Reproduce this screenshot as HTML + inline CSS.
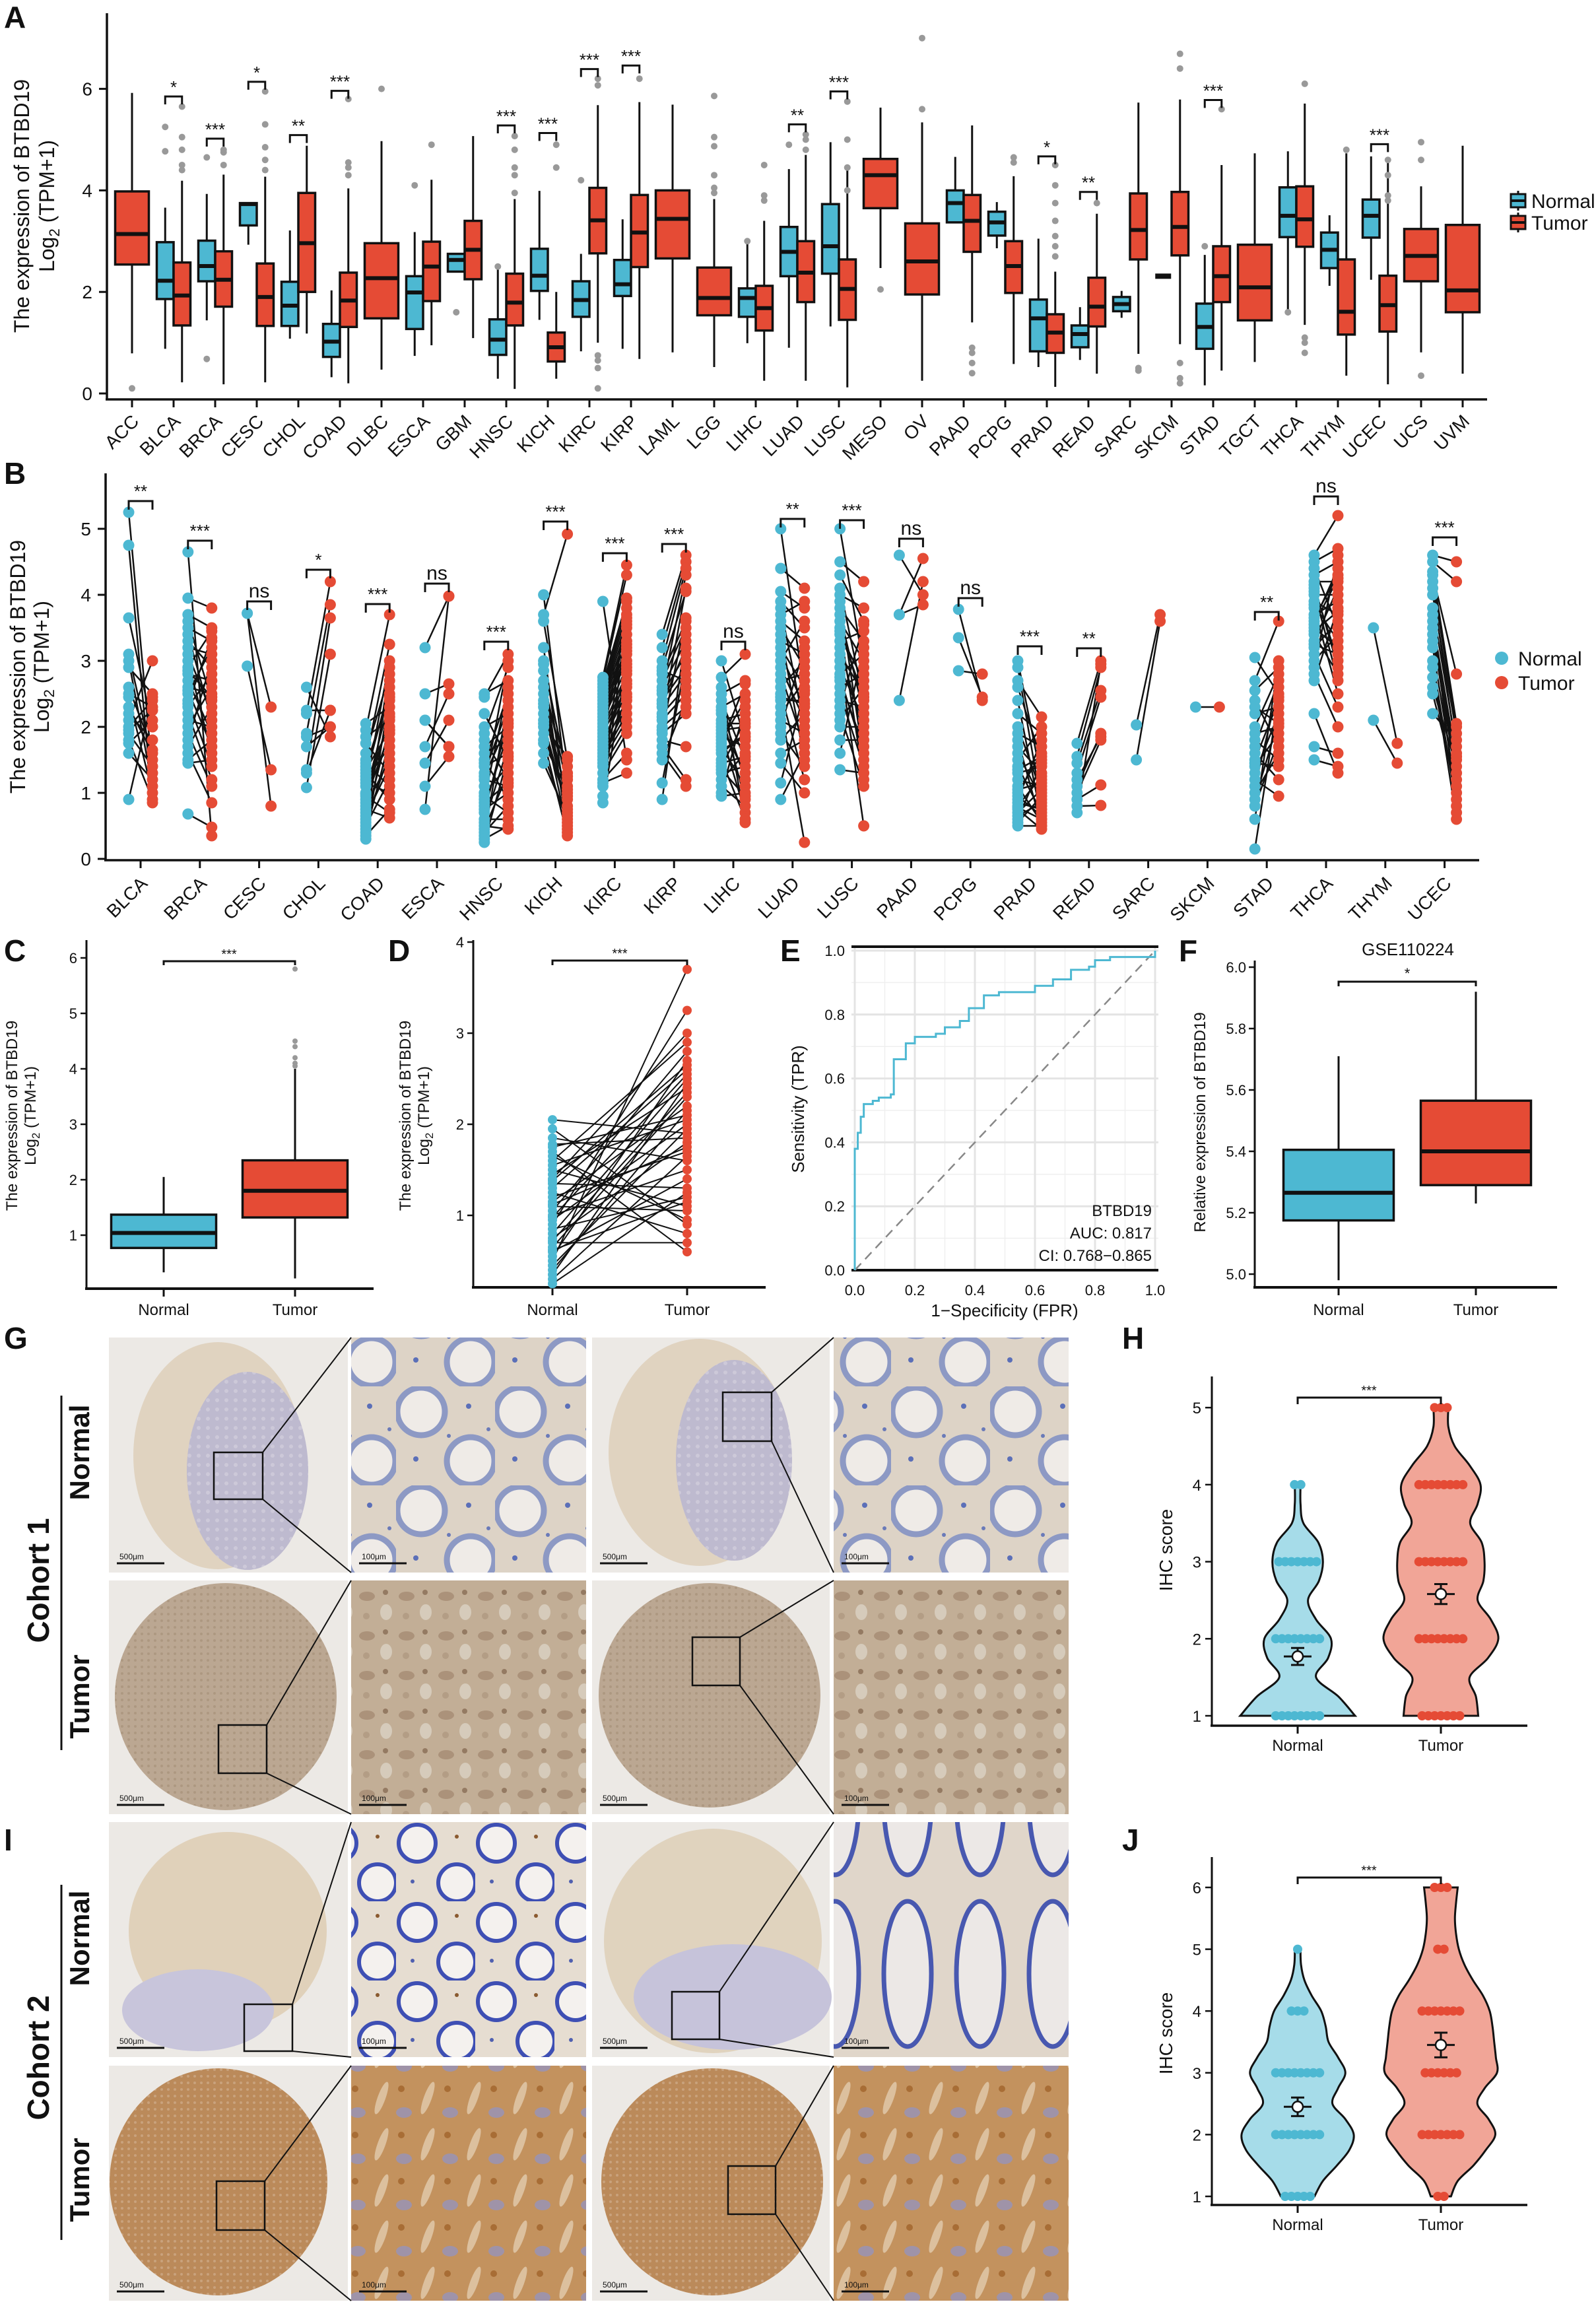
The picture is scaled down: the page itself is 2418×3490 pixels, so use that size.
<!DOCTYPE html>
<html><head><meta charset="utf-8"><title>BTBD19 expression figure</title>
<style>
html,body{margin:0;padding:0;background:#fff;}
svg{display:block;}
text{font-family:"Liberation Sans",Arial,sans-serif;fill:#111;}
.lt{font-weight:bold;}
</style></head>
<body>
<svg id="fig" xmlns="http://www.w3.org/2000/svg" width="2418" height="3490" viewBox="0 0 2418 3490">
<defs>
<pattern id="pGland1" width="150" height="150" patternUnits="userSpaceOnUse">
 <rect width="150" height="150" fill="#ddd3c6"/>
 <circle cx="38" cy="38" r="36" fill="#efebe7" stroke="#8d99c4" stroke-width="9"/>
 <circle cx="113" cy="113" r="36" fill="#efebe7" stroke="#8d99c4" stroke-width="9"/>
 <circle cx="110" cy="30" r="4" fill="#5b6fb8"/><circle cx="30" cy="110" r="4" fill="#5b6fb8"/>
 <circle cx="80" cy="75" r="3" fill="#6a7ab8"/><circle cx="140" cy="65" r="3" fill="#6a7ab8"/>
</pattern>
<pattern id="pGland2" width="120" height="120" patternUnits="userSpaceOnUse">
 <rect width="120" height="120" fill="#e6ddd1"/>
 <circle cx="32" cy="32" r="28" fill="#f4f1ee" stroke="#3e4fb4" stroke-width="6"/>
 <circle cx="92" cy="92" r="28" fill="#f4f1ee" stroke="#3e4fb4" stroke-width="6"/>
 <circle cx="92" cy="22" r="3" fill="#8a5a30"/><circle cx="25" cy="90" r="3" fill="#5060b0"/>
</pattern>
<pattern id="pGland3" width="110" height="260" patternUnits="userSpaceOnUse">
 <rect width="110" height="260" fill="#e0d6ca"/>
 <ellipse cx="55" cy="130" rx="36" ry="110" fill="#ece8e6" stroke="#4858b0" stroke-width="7"/>
</pattern>
<pattern id="pTum1" width="60" height="60" patternUnits="userSpaceOnUse">
 <rect width="60" height="60" fill="#c2ae96"/>
 <ellipse cx="16" cy="18" rx="12" ry="7" fill="#ab927a"/>
 <ellipse cx="45" cy="42" rx="9" ry="12" fill="#d6cbbb"/>
 <circle cx="44" cy="12" r="4" fill="#947a62"/>
 <circle cx="15" cy="48" r="5" fill="#b39d85"/>
</pattern>
<pattern id="pTum2" width="70" height="70" patternUnits="userSpaceOnUse">
 <rect width="70" height="70" fill="#c3925e"/>
 <ellipse cx="18" cy="28" rx="6" ry="26" fill="#dcc09e" transform="rotate(20 18 28)"/>
 <ellipse cx="52" cy="50" rx="12" ry="8" fill="#9f93a8"/>
 <circle cx="48" cy="14" r="5" fill="#a86d35"/>
</pattern>
<pattern id="pCoreN" width="14" height="14" patternUnits="userSpaceOnUse">
 <rect width="14" height="14" fill="#bebacf"/><circle cx="7" cy="7" r="3" fill="#cdc9d9"/>
</pattern>
<pattern id="pCoreT1" width="10" height="10" patternUnits="userSpaceOnUse">
 <rect width="10" height="10" fill="#bba792"/><circle cx="5" cy="5" r="2" fill="#ad9881"/>
</pattern>
<pattern id="pCoreT2" width="10" height="10" patternUnits="userSpaceOnUse">
 <rect width="10" height="10" fill="#bb8a5a"/><circle cx="5" cy="5" r="2" fill="#c9a27c"/>
</pattern>
</defs>
<text class="lt" x="6" y="42" font-size="46">A</text>
<text class="lt" x="6" y="733" font-size="46">B</text>
<text class="lt" x="6" y="1456" font-size="46">C</text>
<text class="lt" x="588" y="1456" font-size="46">D</text>
<text class="lt" x="1182" y="1456" font-size="46">E</text>
<text class="lt" x="1786" y="1456" font-size="46">F</text>
<text class="lt" x="6" y="2043" font-size="46">G</text>
<text class="lt" x="1700" y="2043" font-size="46">H</text>
<text class="lt" x="6" y="2803" font-size="46">I</text>
<text class="lt" x="1700" y="2803" font-size="46">J</text>
</svg>
<script>
const NS='http://www.w3.org/2000/svg';
const svg=document.getElementById('fig');
function mk(tag, attrs, name, parent){
  const el=document.createElementNS(NS, tag);
  for(const k in attrs) el.setAttribute(k, attrs[k]);
  
  
  (parent||svg).appendChild(el);
  return el;
}
function txt(x,y,s,size,name,extra){
  const t=mk('text',Object.assign({x:x,y:y,'font-size':size},extra||{}),name);
  t.textContent=s; return t;
}
function line(x1,y1,x2,y2,w,name,col,extra){
  return mk('line',Object.assign({x1:x1,y1:y1,x2:x2,y2:y2,stroke:col||'#111','stroke-width':w},extra||{}),name);
}
function ylab2(x1,x2,cy,size,name){
  txt(x1,cy,'The expression of BTBD19',size,name+'-line1',{'text-anchor':'middle',transform:'rotate(-90 '+x1+' '+cy+')'});
  const t2=mk('text',{x:x2,y:cy,'font-size':size,'text-anchor':'middle',transform:'rotate(-90 '+x2+' '+cy+')'},name+'-line2');
  const a=document.createElementNS(NS,'tspan'); a.textContent='Log'; t2.appendChild(a);
  const b=document.createElementNS(NS,'tspan'); b.textContent='2'; b.setAttribute('font-size',size*0.7); b.setAttribute('dy',size*0.25); t2.appendChild(b);
  const c=document.createElementNS(NS,'tspan'); c.textContent=' (TPM+1)'; c.setAttribute('dy',-size*0.25); t2.appendChild(c);
}
const BLUE='#4db8d2', RED='#e54b35';

/* ================= PANEL A ================= */
const catsA=['ACC','BLCA','BRCA','CESC','CHOL','COAD','DLBC','ESCA','GBM','HNSC','KICH','KIRC','KIRP','LAML','LGG','LIHC','LUAD','LUSC','MESO','OV','PAAD','PCPG','PRAD','READ','SARC','SKCM','STAD','TGCT','THCA','THYM','UCEC','UCS','UVM'];
const normLoA =[null,0.88,1.44,2.93,1.08,0.32,null,0.74,2.4,0.29,1.45,0.83,0.88,null,null,0.99,0.9,1.32,null,null,3.37,2.86,0.52,0.66,1.49,2.31,0.16,null,1.54,2.12,2.24,null,null];
const normQ1A =[null,1.86,2.21,3.31,1.33,0.72,null,1.27,2.4,0.76,2.02,1.51,1.92,null,null,1.51,2.31,2.36,null,null,3.37,3.11,0.83,0.91,1.62,2.31,0.88,null,3.08,2.47,3.07,null,null];
const normMedA=[null,2.22,2.51,3.73,1.73,1.02,null,1.99,2.63,1.06,2.32,1.84,2.15,null,null,1.88,2.79,2.9,null,null,3.75,3.37,1.48,1.17,1.76,2.31,1.31,null,3.5,2.83,3.5,null,null];
const normQ3A =[null,2.98,3.01,3.75,2.2,1.37,null,2.31,2.75,1.46,2.85,2.21,2.63,null,null,2.07,3.28,3.73,null,null,4.0,3.58,1.85,1.34,1.9,2.31,1.77,null,4.06,3.17,3.82,null,null];
const normHiA =[null,3.66,3.93,3.75,3.21,2.03,null,3.18,2.75,2.5,3.99,2.75,3.43,null,null,2.99,4.42,4.95,null,null,4.66,3.77,3.05,1.7,2.02,2.31,2.73,null,4.77,3.51,4.67,null,null];
const tumLoA  =[0.79,0.22,0.18,0.22,1.18,0.2,0.47,0.95,1.09,0.09,0.29,1.0,0.68,0.81,0.52,0.25,0.25,0.12,2.47,0.25,1.4,0.58,0.13,0.39,0.78,0.97,0.45,0.62,1.35,0.35,0.18,0.81,0.39];
const tumQ1A  =[2.54,1.34,1.71,1.33,2.0,1.31,1.48,1.82,2.25,1.34,0.63,2.76,2.49,2.66,1.54,1.24,1.8,1.45,3.65,1.95,2.79,1.98,0.8,1.32,2.64,2.72,1.8,1.44,2.89,1.16,1.22,2.21,1.6];
const tumMedA =[3.14,1.93,2.24,1.9,2.96,1.83,2.27,2.5,2.83,1.79,0.91,3.41,3.17,3.44,1.88,1.68,2.38,2.06,4.3,2.6,3.4,2.51,1.2,1.71,3.22,3.28,2.31,2.09,3.43,1.61,1.74,2.71,2.03];
const tumQ3A  =[3.98,2.58,2.8,2.56,3.95,2.38,2.96,2.99,3.4,2.36,1.2,4.05,3.91,4.0,2.48,2.12,3.0,2.64,4.62,3.35,3.91,3.0,1.56,2.28,3.94,3.97,2.9,2.93,4.08,2.64,2.32,3.24,3.32];
const tumHiA  =[5.92,4.19,4.31,4.27,4.88,4.04,4.97,4.21,5.07,3.83,2.0,5.68,5.74,5.69,3.83,3.4,4.7,4.41,5.63,5.34,5.28,4.28,2.4,3.54,5.73,5.79,4.5,4.73,5.71,4.73,4.59,4.08,4.88];
const normOutA=[[],[4.77,5.25],[0.68,4.65],[],[],[],[],[4.1],[1.6],[2.5],[],[4.2],[],[],[],[3.0],[4.9],[],[],[],[],[],[],[],[],[],[2.9],[],[1.6],[],[],[],[]];
const tumOutA =[[0.1],[4.4,4.5,4.8,5.05,5.65],[4.5,4.75,4.8],[4.4,4.6,4.85,5.3,5.95],[],[4.3,4.45,4.55,5.8],[6.0],[4.9],[],[3.95,4.3,4.45,4.8,5.07],[4.45,4.9],[6.07,6.2,0.5,0.65,0.75,0.1],[6.2],[],[5.86,5.05,4.87,4.3,4.05,3.95],[3.8,3.9,4.5],[5.0,5.1,4.8],[5.75,5.0,4.45,4.0],[2.05],[7.0,5.6],[0.4,0.6,0.8,0.9],[4.55,4.65],[4.5,4.1,3.75,3.4,3.1,2.9,2.7],[3.75],[0.45,0.5],[6.69,6.4,0.2,0.3,0.6],[5.6],[],[6.1,0.8,1.0,1.1],[4.8],[4.6,4.3,3.9,3.8],[4.95,4.6,0.35],[]];
const sigCatA=['BLCA','BRCA','CESC','CHOL','COAD','HNSC','KICH','KIRC','KIRP','LUAD','LUSC','PRAD','READ','STAD','UCEC'];
const sigYA  =[5.85,5.02,6.14,5.09,5.96,5.28,5.13,6.39,6.46,5.3,5.95,4.67,3.97,5.78,4.91];
const sigLabA=['*','***','*','**','***','***','***','***','***','**','***','*','**','***','***'];
const ticksA=[0,2,4,6];

const yA=v=>596-76.9*v, xA=i=>200+63*i;
line(162,20,162,605,3.5,'a-y-axis');
line(160,605,2253,605,3.5,'a-x-axis');
ticksA.forEach(t=>{line(150,yA(t),162,yA(t),3,'a-y-tick');txt(140,yA(t)+10,String(t),28,'a-y-tick-label',{'text-anchor':'end'});});
ylab2(44,82,312,32,'a-y-axis-title');
function drawBox(xc,w,lo,q1,md,q3,hi,col,name,yf){
  const g=mk('g',{},name);
  mk('line',{x1:xc,y1:yf(hi),x2:xc,y2:yf(q3),stroke:'#111','stroke-width':3},name+'-whisker-high',g);
  mk('line',{x1:xc,y1:yf(q1),x2:xc,y2:yf(lo),stroke:'#111','stroke-width':3},name+'-whisker-low',g);
  mk('rect',{x:xc-w/2,y:yf(q3),width:w,height:Math.max(yf(q1)-yf(q3),1),fill:col,stroke:'#111','stroke-width':3.5},name+'-box',g);
  mk('line',{x1:xc-w/2,y1:yf(md),x2:xc+w/2,y2:yf(md),stroke:'#111','stroke-width':6},name+'-median',g);
  return g;
}
catsA.forEach((c,i)=>{
  const xc=xA(i);
  line(xc,605,xc,617,3,'a-x-tick');
  const lx=xc+12, ly=640;
  txt(lx,ly,c,28,'a-x-tick-label',{'text-anchor':'end',transform:'rotate(-45 '+lx+' '+ly+')'});
  const hasN=normMedA[i]!==null;
  const wN=hasN?25.5:51;
  const xN=xc-12.75, xT=hasN?xc+12.75:xc;
  if(hasN){
    if(normQ1A[i]===normQ3A[i]){mk('rect',{x:xN-12,y:yA(normMedA[i])-4,width:24,height:8,fill:'#111'},'a-box-normal-'+c);}
    else drawBox(xN,wN,normLoA[i],normQ1A[i],normMedA[i],normQ3A[i],normHiA[i],BLUE,'a-box-normal-'+c,yA);
    normOutA[i].forEach(v=>mk('circle',{cx:xN,cy:yA(v),r:5,fill:'#999'},'a-outlier-normal-'+c));
  }
  drawBox(xT,wN,tumLoA[i],tumQ1A[i],tumMedA[i],tumQ3A[i],tumHiA[i],RED,'a-box-tumor-'+c,yA);
  tumOutA[i].forEach(v=>mk('circle',{cx:xT,cy:yA(v),r:5,fill:'#999'},'a-outlier-tumor-'+c));
});
sigCatA.forEach((c,k)=>{
  const i=catsA.indexOf(c), x1=xA(i)-12.75, x2=xA(i)+12.75, y=yA(sigYA[k]);
  mk('path',{d:'M'+x1+' '+(y+12)+'V'+y+'H'+x2+'V'+(y+12),fill:'none',stroke:'#111','stroke-width':3},'a-sig-bracket-'+c);
  txt(xA(i),y-5,sigLabA[k],26,'a-sig-label-'+c,{'text-anchor':'middle'});
});
[['Normal',BLUE,304],['Tumor',RED,337]].forEach(([n,col,cy])=>{
  const x=2300;
  mk('line',{x1:x,y1:cy-15,x2:x,y2:cy+15,stroke:'#111','stroke-width':3},'a-legend-key-whisker-'+n.toLowerCase());
  mk('rect',{x:x-11,y:cy-10,width:22,height:20,fill:col,stroke:'#111','stroke-width':3},'a-legend-key-'+n.toLowerCase());
  mk('line',{x1:x-11,y1:cy,x2:x+11,y2:cy,stroke:'#111','stroke-width':4},'a-legend-key-median-'+n.toLowerCase());
  txt(2320,cy+11,n,30,'a-legend-entry-'+n.toLowerCase());
});

/* ================= PANEL B ================= */
const catsB=['BLCA','BRCA','CESC','CHOL','COAD','ESCA','HNSC','KICH','KIRC','KIRP','LIHC','LUAD','LUSC','PAAD','PCPG','PRAD','READ','SARC','SKCM','STAD','THCA','THYM','UCEC'];
const normB=[
"5.25 4.75 3.65 3.1 3.0 2.9 2.6 2.5 2.2 2.1 2.0 1.9 1.8 1.75 1.6 0.9 2.3 2.45 1.95",
"4.65 3.95 3.7 3.6 3.5 3.4 3.3 3.2 3.1 3.0 2.9 2.8 2.7 2.6 2.5 2.4 2.3 2.2 2.1 2.0 1.9 1.8 1.7 1.6 1.5 1.45 2.85 2.55 2.35 0.68",
"3.72 3.72 2.92",
"2.6 2.2 1.9 1.7 1.35 1.3 1.08 2.25 1.85",
"2.05 1.95 1.85 1.75 1.6 1.5 1.45 1.4 1.3 1.25 1.2 1.1 1.0 0.95 0.9 0.85 0.8 0.75 0.7 0.65 0.6 0.55 0.5 0.45 0.4 0.35 0.3 1.15 1.35 0.98",
"3.2 2.5 2.1 1.7 1.45 1.1 0.75 2.1",
"2.5 2.45 2.2 2.0 1.9 1.8 1.7 1.6 1.5 1.45 1.4 1.3 1.2 1.1 1.0 0.95 0.9 0.8 0.75 0.7 0.6 0.55 0.5 0.45 0.4 0.35 0.3 0.25 1.25 0.85",
"4.0 3.7 3.6 3.2 3.0 2.85 2.7 2.6 2.5 2.4 2.3 2.2 2.1 2.0 1.9 1.8 1.75 1.6 1.45 2.95 2.35 2.05",
"3.9 2.75 2.7 2.65 2.6 2.55 2.5 2.45 2.4 2.35 2.3 2.25 2.2 2.1 2.0 1.95 1.9 1.8 1.7 1.6 1.55 1.5 1.4 1.3 1.2 1.15 1.1 0.95 0.85 2.15 1.85 1.65 1.45 2.05 1.75",
"3.4 3.2 3.0 2.9 2.8 2.7 2.6 2.5 2.4 2.3 2.2 2.1 2.0 1.9 1.8 1.7 1.6 1.5 1.15 0.9 2.55 2.35 2.15 2.85 1.95",
"3.0 2.75 2.5 2.4 2.3 2.2 2.1 2.0 1.95 1.9 1.85 1.8 1.7 1.6 1.5 1.4 1.3 1.2 1.1 1.0 0.95 2.6 2.25 1.75 1.65 1.45 1.35 2.05",
"5.0 4.4 4.05 3.9 3.8 3.6 3.5 3.4 3.3 3.2 3.1 3.0 2.9 2.8 2.7 2.6 2.5 2.4 2.3 2.2 2.1 2.0 1.9 1.8 1.6 1.45 1.15 0.9 3.7 2.45",
"5.0 4.5 4.3 4.1 4.0 3.9 3.8 3.7 3.6 3.5 3.4 3.3 3.2 3.1 3.0 2.9 2.8 2.7 2.6 2.5 2.4 2.3 2.2 2.1 2.0 1.8 1.6 1.35 3.45 2.75",
"4.6 3.7 3.7 2.4",
"3.78 3.35 2.85",
"3.0 2.9 2.7 2.6 2.4 2.2 2.0 1.9 1.8 1.7 1.6 1.5 1.4 1.3 1.2 1.1 1.0 0.95 0.9 0.85 0.8 0.75 0.7 0.65 0.6 0.55 0.5 1.35 1.05 0.78",
"1.75 1.55 1.45 1.3 1.1 1.0 0.9 0.8 0.7 1.2",
"2.03 1.5",
"2.3",
"3.05 2.7 2.55 2.4 2.2 2.0 1.9 1.8 1.7 1.6 1.5 1.4 1.3 1.2 1.1 1.0 0.9 0.8 0.6 0.15 1.45 2.3",
"4.6 4.5 4.4 4.3 4.2 4.1 4.0 3.9 3.8 3.7 3.6 3.5 3.4 3.3 3.2 3.1 3.0 2.9 2.8 2.7 2.2 1.5 1.7 3.65 3.85 4.05 3.25 3.45 3.55 4.15",
"3.5 2.1",
"4.6 4.5 4.3 4.2 4.0 3.8 3.6 3.5 3.4 3.2 3.0 2.9 2.6 2.5 2.2 4.1 3.7 3.3 2.75 4.35"];
const tumB=[
"1.3 0.85 2.0 1.5 1.1 2.5 1.65 2.3 1.8 3.0 2.4 1.4 0.9 2.1 1.2 2.45 1.6 1.0 2.25",
"0.35 3.8 3.5 2.4 3.3 2.1 2.9 3.1 2.2 1.6 3.45 2.7 1.9 2.5 3.2 1.4 2.8 1.2 2.0 2.6 1.1 3.0 2.3 0.85 1.8 1.5 2.45 1.7 3.35 0.48",
"2.3 0.8 1.35",
"1.85 4.2 3.85 2.0 3.65 2.25 3.1 2.25 2.0",
"2.3 3.7 2.1 1.3 2.8 3.25 1.1 2.5 0.9 2.6 1.7 3.0 2.4 0.7 1.9 2.2 1.5 0.62 2.7 1.4 2.0 1.6 1.2 2.9 1.8 0.75 2.45 1.0 1.95 2.15",
"3.98 2.65 1.7 2.5 2.1 1.55 3.98 1.7",
"2.7 3.1 1.5 2.2 2.9 1.2 2.0 1.8 0.9 2.5 1.6 2.3 1.1 3.0 1.4 0.7 2.6 1.9 1.0 2.1 0.6 1.7 0.45 1.3 0.8 2.4 0.5 1.55 2.05 1.15",
"1.0 4.92 1.5 0.6 1.2 0.4 1.1 0.5 1.4 0.9 0.7 1.3 0.45 1.55 0.8 0.35 1.05 0.55 0.65 1.25 0.95 0.75",
"1.5 4.45 4.3 3.9 3.8 3.7 3.6 3.5 3.4 3.3 3.2 3.1 3.0 2.9 2.8 2.7 2.6 2.5 2.4 2.3 2.2 2.1 2.0 1.9 1.6 1.3 3.95 3.55 2.95 3.25 3.65 2.85 2.45 3.15 2.65",
"4.6 4.5 4.4 4.05 3.6 3.5 3.3 3.1 2.9 2.8 2.6 2.5 2.3 2.2 1.7 1.2 1.1 2.4 3.0 3.4 4.3 3.2 4.1 2.7 3.65",
"1.8 3.1 2.7 1.5 2.5 0.9 2.2 1.3 2.0 0.7 1.7 2.4 1.1 1.9 0.6 2.1 1.4 1.6 0.8 2.3 1.0 0.55 1.2 2.65 1.85 1.55 0.95 2.05",
"2.5 4.1 3.8 3.5 2.0 3.3 2.9 1.5 3.1 2.6 2.3 3.6 2.1 1.7 2.8 3.0 1.2 2.4 0.25 2.7 1.9 3.2 1.4 2.2 1.8 1.0 2.55 1.6 3.9 2.35",
"2.9 4.2 3.6 2.4 3.8 1.5 3.3 2.2 3.0 1.2 2.7 3.45 1.9 2.5 0.5 2.1 3.1 1.7 2.8 1.4 2.3 3.55 1.1 2.6 2.0 1.8 3.2 1.3 2.45 1.6",
"4.0 4.55 3.85 4.2",
"2.4 2.45 2.8",
"1.2 0.8 2.15 1.5 0.6 1.9 1.0 1.7 0.5 1.3 0.9 2.0 0.7 1.4 1.1 0.55 1.6 0.65 1.8 0.75 1.25 0.45 1.05 0.85 1.45 0.95 0.5 1.55 1.15 0.6",
"3.0 2.9 2.55 2.45 1.9 1.8 1.12 0.81 2.95 1.85",
"3.7 3.6",
"2.3",
"2.5 3.6 2.9 1.7 2.3 2.8 2.0 1.5 2.7 1.2 2.4 1.9 2.2 0.95 2.6 1.6 2.1 1.8 3.0 2.45 1.4 2.05",
"5.2 4.7 3.5 4.5 4.2 3.0 4.0 3.7 2.5 3.9 4.4 3.2 2.8 4.1 3.6 2.3 3.4 4.6 2.0 3.8 1.3 1.4 1.6 4.3 3.3 2.7 3.1 3.75 4.25 2.9",
"1.75 1.45",
"4.5 4.2 2.8 2.0 1.9 1.7 1.5 1.3 1.2 1.0 0.8 0.6 1.4 1.1 1.8 1.6 0.7 1.55 0.9 2.05"];
const sigCatB=['BLCA','BRCA','CESC','CHOL','COAD','ESCA','HNSC','KICH','KIRC','KIRP','LIHC','LUAD','LUSC','PAAD','PCPG','PRAD','READ','STAD','THCA','UCEC'];
const sigYB  =[5.42,4.82,3.9,4.38,3.86,4.17,3.29,5.11,4.63,4.77,3.29,5.15,5.13,4.85,3.95,3.22,3.19,3.74,5.49,4.87];
const sigLabB=['**','***','ns','*','***','ns','***','***','***','***','ns','**','***','ns','ns','***','**','**','ns','***'];
const ticksB=[0,1,2,3,4,5];
const yB=v=>1301-100*v, xB=i=>213+89.8*i;
line(160,717,160,1303,3.5,'b-y-axis');
line(158,1303,2241,1303,3.5,'b-x-axis');
ticksB.forEach(t=>{line(148,yB(t),160,yB(t),3,'b-y-tick');txt(138,yB(t)+10,String(t),28,'b-y-tick-label',{'text-anchor':'end'});});
ylab2(38,74,1010,32,'b-y-axis-title');
catsB.forEach((c,i)=>{
  const xc=xB(i);
  line(xc,1303,xc,1315,3,'b-x-tick');
  const lx=xc+12, ly=1340;
  txt(lx,ly,c,28,'b-x-tick-label',{'text-anchor':'end',transform:'rotate(-45 '+lx+' '+ly+')'});
  const n=normB[i].split(' ').map(Number), t=tumB[i].split(' ').map(Number);
  n.forEach((v,k)=>mk('line',{x1:xc-18,y1:yB(v),x2:xc+18,y2:yB(t[k]),stroke:'#111','stroke-width':2.5},'b-pair-line-'+c));
  n.forEach(v=>mk('circle',{cx:xc-18,cy:yB(v),r:8.5,fill:BLUE},'b-point-normal-'+c));
  t.forEach(v=>mk('circle',{cx:xc+18,cy:yB(v),r:8.5,fill:RED},'b-point-tumor-'+c));
});
sigCatB.forEach((c,k)=>{
  const i=catsB.indexOf(c), x1=xB(i)-18, x2=xB(i)+18, y=yB(sigYB[k]);
  mk('path',{d:'M'+x1+' '+(y+13)+'V'+y+'H'+x2+'V'+(y+13),fill:'none',stroke:'#111','stroke-width':3},'b-sig-bracket-'+c);
  txt(xB(i),y-6,sigLabB[k],sigLabB[k]==='ns'?30:26,'b-sig-label-'+c,{'text-anchor':'middle'});
});
[['Normal',BLUE,997],['Tumor',RED,1034]].forEach(([n,col,cy])=>{
  mk('circle',{cx:2275,cy:cy,r:10,fill:col},'b-legend-key-'+n.toLowerCase());
  txt(2300,cy+11,n,30,'b-legend-entry-'+n.toLowerCase());
});

/* ================= PANEL C ================= */
const groups=['Normal','Tumor'];
const boxC_lo=[0.33,0.22], boxC_q1=[0.77,1.32], boxC_med=[1.04,1.8], boxC_q3=[1.37,2.35], boxC_hi=[2.05,4.0];
const outC_tumor=[4.05,4.1,4.2,4.4,4.5,5.8];
const ticksC=[1,2,3,4,5,6];
const yC=v=>1955-84*v, xCpos=[248,447];
line(131,1424,131,1952,3,'c-y-axis'); line(129,1952,566,1952,4,'c-x-axis');
ticksC.forEach(t=>{line(122,yC(t),131,yC(t),2.5,'c-y-tick');txt(117,yC(t)+8,String(t),22,'c-y-tick-label',{'text-anchor':'end'});});
ylab2(26,54,1690,24,'c-y-axis-title');
groups.forEach((g,i)=>{
  line(xCpos[i],1952,xCpos[i],1964,3,'c-x-tick');
  txt(xCpos[i],1992,g,24,'c-x-tick-label',{'text-anchor':'middle'});
  drawBox(xCpos[i],159,boxC_lo[i],boxC_q1[i],boxC_med[i],boxC_q3[i],boxC_hi[i],i?RED:BLUE,'c-box-'+g.toLowerCase(),yC);
});
outC_tumor.forEach(v=>mk('circle',{cx:xCpos[1],cy:yC(v),r:4,fill:'#999'},'c-outlier-tumor'));
mk('path',{d:'M248 1462V1456H447V1462',fill:'none',stroke:'#111','stroke-width':3},'c-sig-bracket');
txt(347,1452,'***',20,'c-sig-label',{'text-anchor':'middle'});

/* ================= PANEL D ================= */
const normD="2.05 1.95 1.85 1.75 1.7 1.6 1.5 1.45 1.4 1.35 1.3 1.25 1.2 1.15 1.1 1.05 1.0 0.95 0.9 0.85 0.8 0.75 0.7 0.65 0.6 0.55 0.5 0.45 0.4 0.35 0.3 0.25 1.55 1.65 0.98 1.12 0.72 0.62 1.38 1.78".split(' ').map(Number);
const tumD ="1.9 0.9 1.6 2.1 0.6 2.9 1.1 2.4 3.0 1.3 2.6 0.8 1.7 2.2 1.05 2.8 1.5 2.0 3.25 1.2 2.5 1.8 0.7 2.3 1.4 2.7 3.7 1.95 2.15 2.45 1.65 1.25 2.05 0.95 2.55 1.75 2.35 1.15 2.65 1.85".split(' ').map(Number);
const ticksD=[1,2,3,4];
const yD=v=>1979-138*v, xDpos=[837,1041];
line(717,1424,717,1950,3,'d-y-axis'); line(715,1950,1160,1950,4,'d-x-axis');
ticksD.forEach(t=>{line(708,yD(t),717,yD(t),2.5,'d-y-tick');txt(703,yD(t)+8,String(t),22,'d-y-tick-label',{'text-anchor':'end'});});
ylab2(622,650,1690,24,'d-y-axis-title');
groups.forEach((g,i)=>{line(xDpos[i],1950,xDpos[i],1962,3,'d-x-tick');txt(xDpos[i],1992,g,24,'d-x-tick-label',{'text-anchor':'middle'});});
normD.forEach((v,k)=>mk('line',{x1:xDpos[0],y1:yD(v),x2:xDpos[1],y2:yD(tumD[k]),stroke:'#111','stroke-width':2},'d-pair-line'));
normD.forEach(v=>mk('circle',{cx:xDpos[0],cy:yD(v),r:7,fill:BLUE},'d-point-normal'));
tumD.forEach(v=>mk('circle',{cx:xDpos[1],cy:yD(v),r:7,fill:RED},'d-point-tumor'));
mk('path',{d:'M837 1462V1455H1041V1462',fill:'none',stroke:'#111','stroke-width':3},'d-sig-bracket');
txt(939,1451,'***',20,'d-sig-label',{'text-anchor':'middle'});

/* ================= PANEL E (ROC) ================= */
const rocFpr=[0,0,0.01,0.01,0.02,0.02,0.03,0.03,0.06,0.08,0.12,0.13,0.13,0.17,0.17,0.2,0.27,0.3,0.35,0.38,0.38,0.43,0.48,0.6,0.66,0.72,0.78,0.8,0.85,1.0];
const rocTpr=[0,0.38,0.38,0.43,0.43,0.48,0.48,0.52,0.53,0.54,0.55,0.55,0.66,0.68,0.71,0.73,0.74,0.76,0.78,0.78,0.82,0.86,0.87,0.89,0.91,0.94,0.95,0.97,0.98,1.0];
const ticksE=[0,0.2,0.4,0.6,0.8,1.0];
const ex=f=>1295+455*f, ey=t=>1924-484*t;
[0.1,0.3,0.5,0.7,0.9].forEach(t=>{
  line(ex(t),1434,ex(t),1924,1.5,'e-grid-minor-x','#efefef');
  line(1290,ey(t),1755,ey(t),1.5,'e-grid-minor-y','#efefef');
});
ticksE.forEach(t=>{
  line(ex(t),1434,ex(t),1924,3,'e-grid-major-x','#e4e4e4');
  line(1290,ey(t),1755,ey(t),3,'e-grid-major-y','#e4e4e4');
  txt(ex(t),1962,t.toFixed(1),22,'e-x-tick-label',{'text-anchor':'middle'});
  txt(1280,ey(t)+8,t.toFixed(1),22,'e-y-tick-label',{'text-anchor':'end'});
});
line(1290,1434,1755,1434,4,'e-panel-top-border');
line(1290,1924,1755,1924,4,'e-panel-bottom-border');
line(ex(0),ey(0),ex(1),ey(1),2.5,'e-reference-diagonal','#888',{'stroke-dasharray':'14 9'});
let dROC='M'+ex(rocFpr[0])+' '+ey(rocTpr[0]);
for(let i=1;i<rocFpr.length;i++){dROC+=' L'+ex(rocFpr[i])+' '+ey(rocTpr[i-1])+' L'+ex(rocFpr[i])+' '+ey(rocTpr[i]);}
mk('path',{d:dROC,fill:'none',stroke:BLUE,'stroke-width':3},'e-roc-curve');
txt(1745,1842,'BTBD19',24,'e-annotation-gene',{'text-anchor':'end'});
txt(1745,1876,'AUC: 0.817',24,'e-annotation-auc',{'text-anchor':'end'});
txt(1745,1910,'CI: 0.768\u22120.865',24,'e-annotation-ci',{'text-anchor':'end'});
txt(1522,1994,'1\u2212Specificity (FPR)',26,'e-x-axis-title',{'text-anchor':'middle'});
txt(1218,1680,'Sensitivity (TPR)',26,'e-y-axis-title',{'text-anchor':'middle',transform:'rotate(-90 1218 1680)'});

/* ================= PANEL F ================= */
const boxF_lo=[4.98,5.23], boxF_q1=[5.175,5.29], boxF_med=[5.265,5.4], boxF_q3=[5.405,5.565], boxF_hi=[5.71,5.92];
const ticksF=[5.0,5.2,5.4,5.6,5.8,6.0];
const yF=v=>1930-465*(v-5), xFpos=[2028,2236];
line(1901,1455,1901,1950,3,'f-y-axis'); line(1899,1950,2359,1950,4,'f-x-axis');
ticksF.forEach(t=>{line(1892,yF(t),1901,yF(t),2.5,'f-y-tick');txt(1888,yF(t)+8,t.toFixed(1),22,'f-y-tick-label',{'text-anchor':'end'});});
txt(1826,1700,'Relative expression of BTBD19',24,'f-y-axis-title',{'text-anchor':'middle',transform:'rotate(-90 1826 1700)'});
txt(2133,1447,'GSE110224',26,'f-title',{'text-anchor':'middle'});
groups.forEach((g,i)=>{
  line(xFpos[i],1950,xFpos[i],1962,3,'f-x-tick');
  txt(xFpos[i],1992,g,24,'f-x-tick-label',{'text-anchor':'middle'});
  drawBox(xFpos[i],167,boxF_lo[i],boxF_q1[i],boxF_med[i],boxF_q3[i],boxF_hi[i],i?RED:BLUE,'f-box-'+g.toLowerCase(),yF);
});
mk('path',{d:'M2028 1494V1487H2236V1494',fill:'none',stroke:'#111','stroke-width':3},'f-sig-bracket');
txt(2132,1482,'*',22,'f-sig-label',{'text-anchor':'middle'});

/* ================= IHC IMAGES (G, I) ================= */
const tileCols=[[165,527],[532,888],[897,1257],[1263,1619]];
const tileRows=[[2026,2382],[2394,2748],[2760,3116],[3129,3485]];
const tileFill=[['#ece9e5','url(#pGland1)','#ece9e5','url(#pGland1)'],['#ece9e5','url(#pTum1)','#ece9e5','url(#pTum1)'],['#ece9e5','url(#pGland2)','#ece9e5','url(#pGland3)'],['#ece9e5','url(#pTum2)','#ece9e5','url(#pTum2)']];
tileRows.forEach((r,ri)=>tileCols.forEach((c,ci)=>{
  mk('rect',{x:c[0],y:r[0],width:c[1]-c[0],height:r[1]-r[0],fill:tileFill[ri][ci]},'ihc-image-tile');
}));
mk('ellipse',{cx:330,cy:2205,rx:128,ry:172,fill:'#e0d3c0'},'g-core-normal-1-stroma');
mk('ellipse',{cx:375,cy:2228,rx:92,ry:150,fill:'url(#pCoreN)'},'g-core-normal-1-mucosa');
mk('ellipse',{cx:1060,cy:2200,rx:138,ry:172,fill:'#e0d3c0'},'g-core-normal-2-stroma');
mk('ellipse',{cx:1112,cy:2212,rx:88,ry:152,fill:'url(#pCoreN)'},'g-core-normal-2-mucosa');
mk('ellipse',{cx:342,cy:2570,rx:168,ry:172,fill:'url(#pCoreT1)'},'g-core-tumor-1');
mk('ellipse',{cx:1075,cy:2568,rx:168,ry:170,fill:'url(#pCoreT1)'},'g-core-tumor-2');
mk('ellipse',{cx:345,cy:2925,rx:150,ry:150,fill:'#e0d1ba'},'i-core-normal-1-stroma');
mk('ellipse',{cx:300,cy:3045,rx:115,ry:62,fill:'#c8c5db'},'i-core-normal-1-mucosa');
mk('ellipse',{cx:1080,cy:2940,rx:165,ry:170,fill:'#e0d3be'},'i-core-normal-2-stroma');
mk('ellipse',{cx:1110,cy:3025,rx:150,ry:80,fill:'#c6c3da'},'i-core-normal-2-mucosa');
mk('ellipse',{cx:331,cy:3305,rx:165,ry:172,fill:'url(#pCoreT2)'},'i-core-tumor-1');
mk('ellipse',{cx:1079,cy:3305,rx:168,ry:172,fill:'url(#pCoreT2)'},'i-core-tumor-2');
tileRows.forEach((r,ri)=>tileCols.forEach((c,ci)=>{
  const sx=c[0]+12, sy=r[1]-14;
  line(sx,sy,sx+72,sy,3,'ihc-scale-bar');
  txt(sx+4,sy-6,ci%2===0?'500\u03bcm':'100\u03bcm',12,'ihc-scale-bar-label');
}));
const zoomBoxes=[[324,2200,398,2271,532,2026,2382],[1095,2109,1169,2183,1263,2026,2382],[331,2613,404,2686,532,2394,2748],[1049,2480,1121,2553,1263,2394,2748],[370,3036,443,3107,532,2760,3116],[1018,3017,1090,3089,1263,2760,3116],[328,3304,401,3378,532,3129,3485],[1103,3281,1175,3354,1263,3129,3485]];
zoomBoxes.forEach(b=>{
  mk('rect',{x:b[0],y:b[1],width:b[2]-b[0],height:b[3]-b[1],fill:'none',stroke:'#111','stroke-width':2.5},'ihc-zoom-box');
  line(b[2],b[1],b[4],b[5],2,'ihc-zoom-connector');
  line(b[2],b[3],b[4],b[6],2,'ihc-zoom-connector');
});
txt(74,2394,'Cohort 1',46,'g-cohort-label',{'text-anchor':'middle','font-weight':'bold',transform:'rotate(-90 74 2394)'});
txt(135,2200,'Normal',42,'g-row-label-normal',{'text-anchor':'middle','font-weight':'bold',transform:'rotate(-90 135 2200)'});
txt(135,2570,'Tumor',42,'g-row-label-tumor',{'text-anchor':'middle','font-weight':'bold',transform:'rotate(-90 135 2570)'});
line(93,2114,93,2651,3,'g-cohort-divider');
txt(74,3117,'Cohort 2',46,'i-cohort-label',{'text-anchor':'middle','font-weight':'bold',transform:'rotate(-90 74 3117)'});
txt(135,2936,'Normal',42,'i-row-label-normal',{'text-anchor':'middle','font-weight':'bold',transform:'rotate(-90 135 2936)'});
txt(135,3302,'Tumor',42,'i-row-label-tumor',{'text-anchor':'middle','font-weight':'bold',transform:'rotate(-90 135 3302)'});
line(93,2855,93,3393,3,'i-cohort-divider');

/* ================= VIOLINS (H, J) ================= */
const densH_normal=[1,.71,.32,.53,.58,.32,.18,.37,.44,.36,.1,.05,.05];
const densH_tumor=[.65,.61,.5,.82,1,.87,.64,.74,.76,.71,.51,.64,.69,.5,.24,.13,.13];
const ptsH_normal=[1,1,1,1,1,1,1,1,2,2,2,2,2,2,2,2,3,3,3,3,3,3,3,4,4];
const ptsH_tumor=[1,1,1,1,1,1,1,2,2,2,2,2,2,2,2,3,3,3,3,3,3,3,3,4,4,4,4,4,4,4,4,5,5,5];
const meanH=[1.77,2.58], seH=[0.11,0.13];
const ticksH=[1,2,3,4,5];
const densJ_normal=[.3,.45,.7,.92,1,.85,.62,.72,.85,.72,.55,.5,.42,.25,.12,.06,.05];
const densJ_tumor=[.18,.3,.58,.8,.97,.85,.65,.78,1.0,.98,.95,.92,.87,.75,.57,.42,.32,.27,.25,.27,.3];
const ptsJ_normal=[1,1,1,1,1,2,2,2,2,2,2,2,2,3,3,3,3,3,3,3,3,4,4,4,5];
const ptsJ_tumor=[1,1,2,2,2,2,2,2,2,3,3,3,3,3,3,4,4,4,4,4,4,4,5,5,6,6,6];
const meanJ=[2.45,3.45], seJ=[0.15,0.2];
const ticksJ=[1,2,3,4,5,6];

function smoothPath(pts){
  let d='M'+pts[0][0]+' '+pts[0][1];
  for(let i=0;i<pts.length-1;i++){
    const p0=pts[Math.max(i-1,0)],p1=pts[i],p2=pts[i+1],p3=pts[Math.min(i+2,pts.length-1)];
    const c1=[p1[0]+(p2[0]-p0[0])/6,p1[1]+(p2[1]-p0[1])/6], c2=[p2[0]-(p3[0]-p1[0])/6,p2[1]-(p3[1]-p1[1])/6];
    d+=' C'+c1[0]+' '+c1[1]+' '+c2[0]+' '+c2[1]+' '+p2[0]+' '+p2[1];
  }
  return d;
}
function violinPanel(p,axisTop,axisY,yf,ticks,dens,pts,mean,se,W,bracketY,labelY,ttlY){
  const xs=[1966,2183], fills=['#a6dce9','#f1a597'], pcol=[BLUE,RED];
  line(1836,axisTop,1836,axisY,3,p+'-y-axis'); line(1834,axisY,2314,axisY,3.5,p+'-x-axis');
  ticks.forEach(t=>{line(1826,yf(t),1836,yf(t),2.5,p+'-y-tick');txt(1820,yf(t)+9,String(t),24,p+'-y-tick-label',{'text-anchor':'end'});});
  txt(1776,ttlY,'IHC score',28,p+'-y-axis-title',{'text-anchor':'middle',transform:'rotate(-90 1776 '+ttlY+')'});
  [0,1].forEach(i=>{
    const xc=xs[i], dd=dens[i];
    const right=dd.map((d,k)=>[xc+d*W,yf(1+0.25*k)]);
    const left=dd.map((d,k)=>[xc-d*W,yf(1+0.25*k)]).reverse();
    const dR=smoothPath(right), dL=smoothPath(left);
    const d=dR+' L'+left[0][0]+' '+left[0][1]+dL.replace(/^M[^C]*/,' ')+' Z';
    mk('path',{d:d,fill:fills[i],stroke:'#111','stroke-width':3},p+'-violin-'+groups[i].toLowerCase());
    const counts={};
    pts[i].forEach(v=>{counts[v]=(counts[v]||0)+1;});
    const seen={};
    pts[i].forEach(v=>{
      const n=counts[v], j=(seen[v]=(seen[v]||0)+1)-1;
      mk('circle',{cx:xc+(j-(n-1)/2)*9.5,cy:yf(v),r:7,fill:pcol[i]},p+'-point-'+groups[i].toLowerCase());
    });
    const m=yf(mean[i]), hi=yf(mean[i]+se[i]), lo=yf(mean[i]-se[i]);
    line(xc,hi,xc,lo,3,p+'-error-bar-'+groups[i].toLowerCase());
    line(xc-10,hi,xc+10,hi,3,p+'-error-cap-high');
    line(xc-10,lo,xc+10,lo,3,p+'-error-cap-low');
    line(xc-21,m,xc+21,m,3,p+'-mean-line');
    mk('circle',{cx:xc,cy:m,r:8,fill:'#fff',stroke:'#111','stroke-width':2.5},p+'-mean-marker-'+groups[i].toLowerCase());
    line(xc,axisY,xc,axisY+12,3,p+'-x-tick');
    txt(xc,labelY,groups[i],24,p+'-x-tick-label',{'text-anchor':'middle'});
  });
  mk('path',{d:'M1966 '+(bracketY+10)+'V'+bracketY+'H2183V'+(bracketY+10),fill:'none',stroke:'#111','stroke-width':3},p+'-sig-bracket');
  txt(2074,bracketY-4,'***',20,p+'-sig-label',{'text-anchor':'middle'});
}
const yH=v=>2599-116.7*(v-1);
violinPanel('h',2085,2614,yH,ticksH,[densH_normal,densH_tumor],[ptsH_normal,ptsH_tumor],meanH,seH,87,2117,2652,2348);
const yJ=v=>3327-93.6*(v-1);
violinPanel('j',2813,3340,yJ,ticksJ,[densJ_normal,densJ_tumor],[ptsJ_normal,ptsJ_tumor],meanJ,seJ,85,2844,3378,3080);
</script>
</body></html>
